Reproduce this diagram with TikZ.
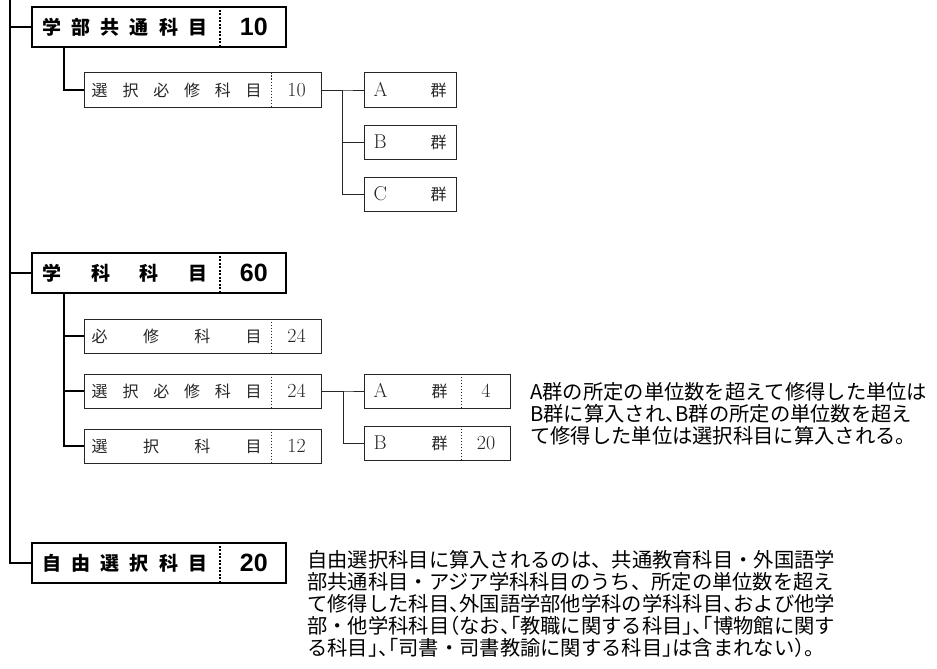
\documentclass[tikz,border=0pt]{standalone}
\usepackage{fontspec}
\newfontfamily\jpfont{Noto Sans CJK JP}
\newfontfamily\jphalf[RawFeature=+halt]{Noto Sans CJK JP}
\newfontfamily\numfont{Liberation Sans}
\usetikzlibrary{positioning,calc}
\newcommand{\hw}[1]{{\jphalf #1}}
\newcommand{\lat}[1]{{\rmfamily\fontsize{20}{20}\selectfont #1}}

\tikzset{
  mainbox/.style={draw, line width=1.6pt, minimum width=254pt, minimum height=40pt, inner sep=0pt},
  subbox/.style={draw=black!85, line width=1pt, minimum width=237pt, minimum height=34pt, inner sep=0pt},
  grpbox/.style={subbox, minimum width=92pt},
  grpnumbox/.style={subbox, minimum width=146pt},
  trunk/.style={line width=1.6pt},
  branch/.style={line width=1pt, black!85},
  maindiv/.style={line width=1.4pt, dash pattern=on 2pt off 1.5pt},
  subdiv/.style={line width=0.7pt, black!85, dash pattern=on 1.5pt off 1.5pt},
  mainlab/.style={inner sep=0pt, anchor=west, font=\jpfont\bfseries\fontsize{19}{19}\selectfont},
  mainnum/.style={inner sep=0pt, font=\numfont\bfseries\fontsize{25}{25}\selectfont},
  sublab/.style={inner sep=0pt, anchor=west, text=black!85, font=\jpfont\fontsize{16}{16}\selectfont},
  subnum/.style={inner sep=0pt, text=black!85, font=\rmfamily\fontsize{20}{20}\selectfont},
  note/.style={inner sep=0pt, anchor=base west, align=left, font=\jpfont\fontsize{20.3}{22}\selectfont},
}

\begin{document}
\begin{tikzpicture}[x=1pt,y=-1pt]
  \useasboundingbox (0,0) rectangle (937,669);

  \foreach \n/\y/\lab/\num in {
      kyotsu/27/{学\hfill 部\hfill 共\hfill 通\hfill 科\hfill 目}/10,
      gakka/273/{学\hfill 科\hfill 科\hfill 目}/60,
      jiyu/563/{自\hfill 由\hfill 選\hfill 択\hfill 科\hfill 目}/20} {
    \node[mainbox] (\n) at (159,\y) {};
    \node[mainlab] (\n-lab) at ([xshift=11pt]\n.west) {\makebox[165pt][s]{\lab}};
    \node[mainnum] (\n-num) at ([xshift=-33pt]\n.east) {\num};
    \draw[maindiv] ([xshift=-67pt]\n.north east) -- ([xshift=-67pt]\n.south east);
  }

  \coordinate (top) at (10,0);
  \draw[trunk] (top) |- (jiyu.west);
  \foreach \n in {kyotsu,gakka}
    \draw[trunk] (top |- \n.west) -- (\n.west);

  \foreach \n/\p/\y/\lab/\num in {
      k-senhis/kyotsu/90/{選\hfill 択\hfill 必\hfill 修\hfill 科\hfill 目}/10,
      g-hisshu/gakka/336/{必\hfill 修\hfill 科\hfill 目}/24,
      g-senhis/gakka/391/{選\hfill 択\hfill 必\hfill 修\hfill 科\hfill 目}/24,
      g-sentaku/gakka/446/{選\hfill 択\hfill 科\hfill 目}/12} {
    \node[subbox] (\n) at (202.5,\y) {};
    \node[sublab] (\n-lab) at ([xshift=8pt]\n.west) {\makebox[170pt][s]{\lab}};
    \node[subnum] (\n-num) at ([xshift=-25pt]\n.east) {\num};
    \draw[subdiv] ([xshift=-50pt]\n.north east) -- ([xshift=-50pt]\n.south east);
    \draw[trunk] ([xshift=33pt]\p.south west) |- (\n.west);
  }

  \foreach \n/\y/\lab in {ka/90/A, kb/142/B, kc/194/C} {
    \node[grpbox] (\n) at (410,\y) {};
    \node[sublab] (\n-lab) at ([xshift=10pt]\n.west) {\makebox[73pt][s]{\lat{\lab}\hfill 群}};
    \draw[branch] (k-senhis.east) -- ++(21pt,0) |- (\n.west);
  }

  \foreach \n/\y/\lab/\num in {ga/391/A/4, gb/443/B/20} {
    \node[grpnumbox] (\n) at (437,\y) {};
    \node[sublab] (\n-lab) at ([xshift=10pt]\n.west) {\makebox[74pt][s]{\lat{\lab}\hfill 群}};
    \node[subnum] (\n-num) at ([xshift=-24.5pt]\n.east) {\num};
    \draw[subdiv] ([xshift=-49pt]\n.north east) -- ([xshift=-49pt]\n.south east);
    \draw[branch] (g-senhis.east) -- ++(22pt,0) |- (\n.west);
  }

  \node[note] (note-ab) at (530,443) {A群の所定の単位数を超えて修得した単位は\\
    B群に算入され\hw{、}B群の所定の単位数を超え\\
    て修得した単位は選択科目に算入される。};
  \node[note] (note-jiyu) at (307,655) {自由選択科目に算入されるのは、共通教育科目・外国語学\\
    部共通科目・アジア学科科目のうち、所定の単位数を超え\\
    て修得した科目\hw{、}外国語学部他学科の学科科目\hw{、}および他学\\
    部・他学科科目\hw{（}なお\hw{、「}教職に関する科目\hw{」、「}博物館に関す\\
    る科目\hw{」、「}司書・司書教諭に関する科目\hw{」}は含まれない\hw{）}。};
\end{tikzpicture}
\end{document}
